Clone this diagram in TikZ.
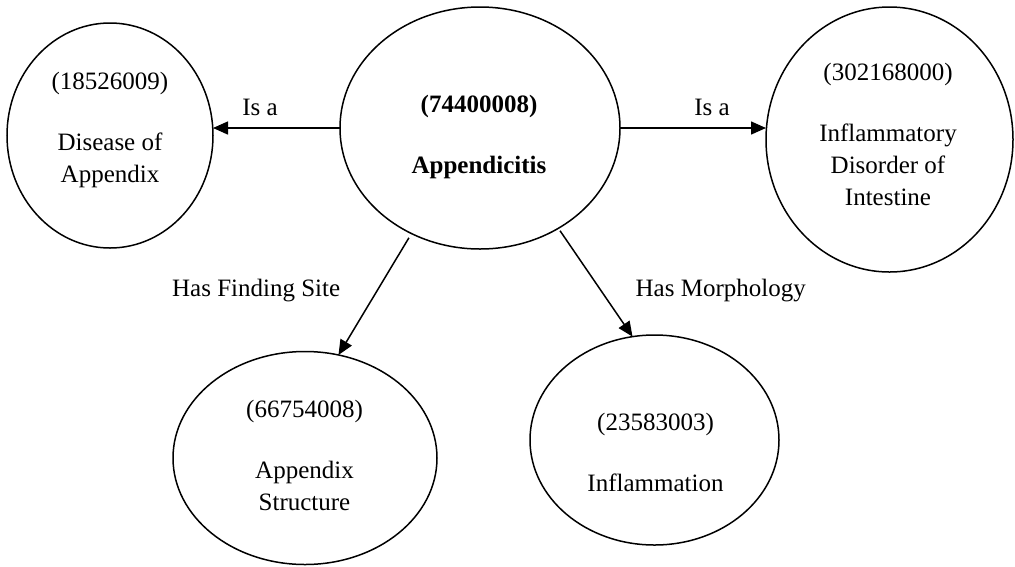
\documentclass[tikz,border=0pt]{standalone}
\usepackage{fontspec}
\setmainfont{Liberation Serif}
\usetikzlibrary{arrows.meta,shapes.geometric}

\tikzset{
  concept/.style={ellipse, draw, line width=1.5pt, inner sep=0pt, outer sep=0pt},
  ctext/.style={align=center, inner sep=0pt,
    font=\fontsize{25}{32}\selectfont},
  rel/.style={line width=1.5pt, -{Triangle[length=15pt,width=13pt]}},
  rellabel/.style={inner sep=0pt, font=\fontsize{25}{30}\selectfont}
}

\begin{document}
\begin{tikzpicture}[x=1pt,y=1pt]
\useasboundingbox (0,0) rectangle (1015,-566);

% concept ellipses
\node[concept, minimum width=206, minimum height=225] (l)  at (110,-135.5) {};
\node[concept, minimum width=280, minimum height=242] (c)  at (480,-128) {};
\node[concept, minimum width=247, minimum height=265] (r)  at (889.5,-139.5) {};
\node[concept, minimum width=264, minimum height=213] (bl) at (305,-458) {};
\node[concept, minimum width=249, minimum height=210] (bm) at (654.5,-440) {};

% concept identifiers and names
\node[ctext] (lt)  at (110,-129.5) {(18526009)\\[29pt]Disease of\\Appendix};
\node[ctext, font=\fontsize{25}{32}\selectfont\bfseries] (ct) at (479,-137) {(74400008)\\[29pt]Appendicitis};
\node[ctext] (rt)  at (888,-134.5) {(302168000)\\[29pt]Inflammatory\\Disorder of\\Intestine};
\node[ctext] (blt) at (304.5,-455) {(66754008)\\[29pt]Appendix\\Structure};
\node[ctext] (bmt) at (655.5,-452) {(23583003)\\[29pt]Inflammation};

% relationships
\draw[rel] (c.west) -- (c.west -| l.east)
  node[rellabel, pos=0.63, anchor=base, yshift=13pt] (isa1) {Is a};
\draw[rel] (c.east) -- (c.east -| r.west)
  node[rellabel, pos=0.63, anchor=base, yshift=13pt] (isa2) {Is a};
\draw[rel, shorten <=5pt] (c.237) -- (bl.72)
  node[rellabel, pos=0.5, anchor=base east, xshift=-34pt, yshift=-2.5pt] (hfs) {Has Finding Site};
\draw[rel, shorten <=3pt] (c.308) -- (bm.102)
  node[rellabel, pos=0.5, anchor=base west, xshift=39.5pt, yshift=-14.5pt] (hm) {Has Morphology};
\end{tikzpicture}
\end{document}
